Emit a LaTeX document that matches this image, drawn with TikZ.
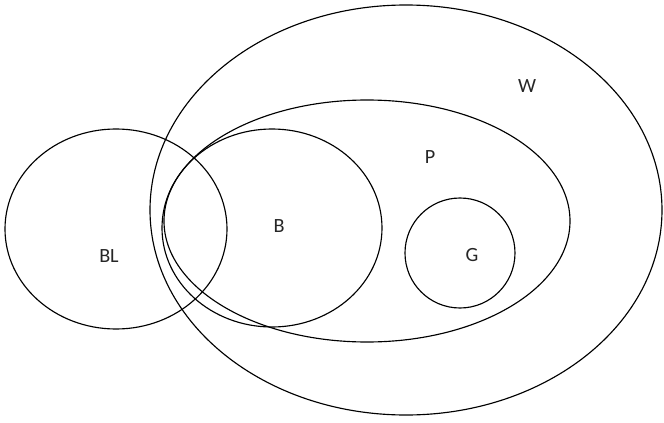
\documentclass[tikz,border=0pt]{standalone}
\usepackage{fontspec}
\setmainfont{Carlito}
\usepackage{tikz}

\begin{document}
\begin{tikzpicture}[x=0.02cm, y=-0.02cm,
  set/.style={draw=black, line width=0.65pt},
  lbl/.style={font=\fontsize{11.5}{14}\selectfont, text=black!85, inner sep=0pt}]
  \useasboundingbox (0,0) rectangle (664,423);
  % sets
  \draw[set] (406,210) ellipse [x radius=256, y radius=205];
  \draw[set] (367,221) ellipse [x radius=203, y radius=121];
  \draw[set] (116,229) ellipse [x radius=111, y radius=100];
  \draw[set] (272,228) ellipse [x radius=110, y radius=99];
  \draw[set] (460,253) circle [radius=55];

  % labels
  \node[lbl] (w) at (527,86) {W};
  \node[lbl] (p) at (430,157) {P};
  \node[lbl] (b) at (279,226) {B};
  \node[lbl] (bl) at (109,256) {BL};
  \node[lbl] (g) at (472,255) {G};
\end{tikzpicture}
\end{document}
